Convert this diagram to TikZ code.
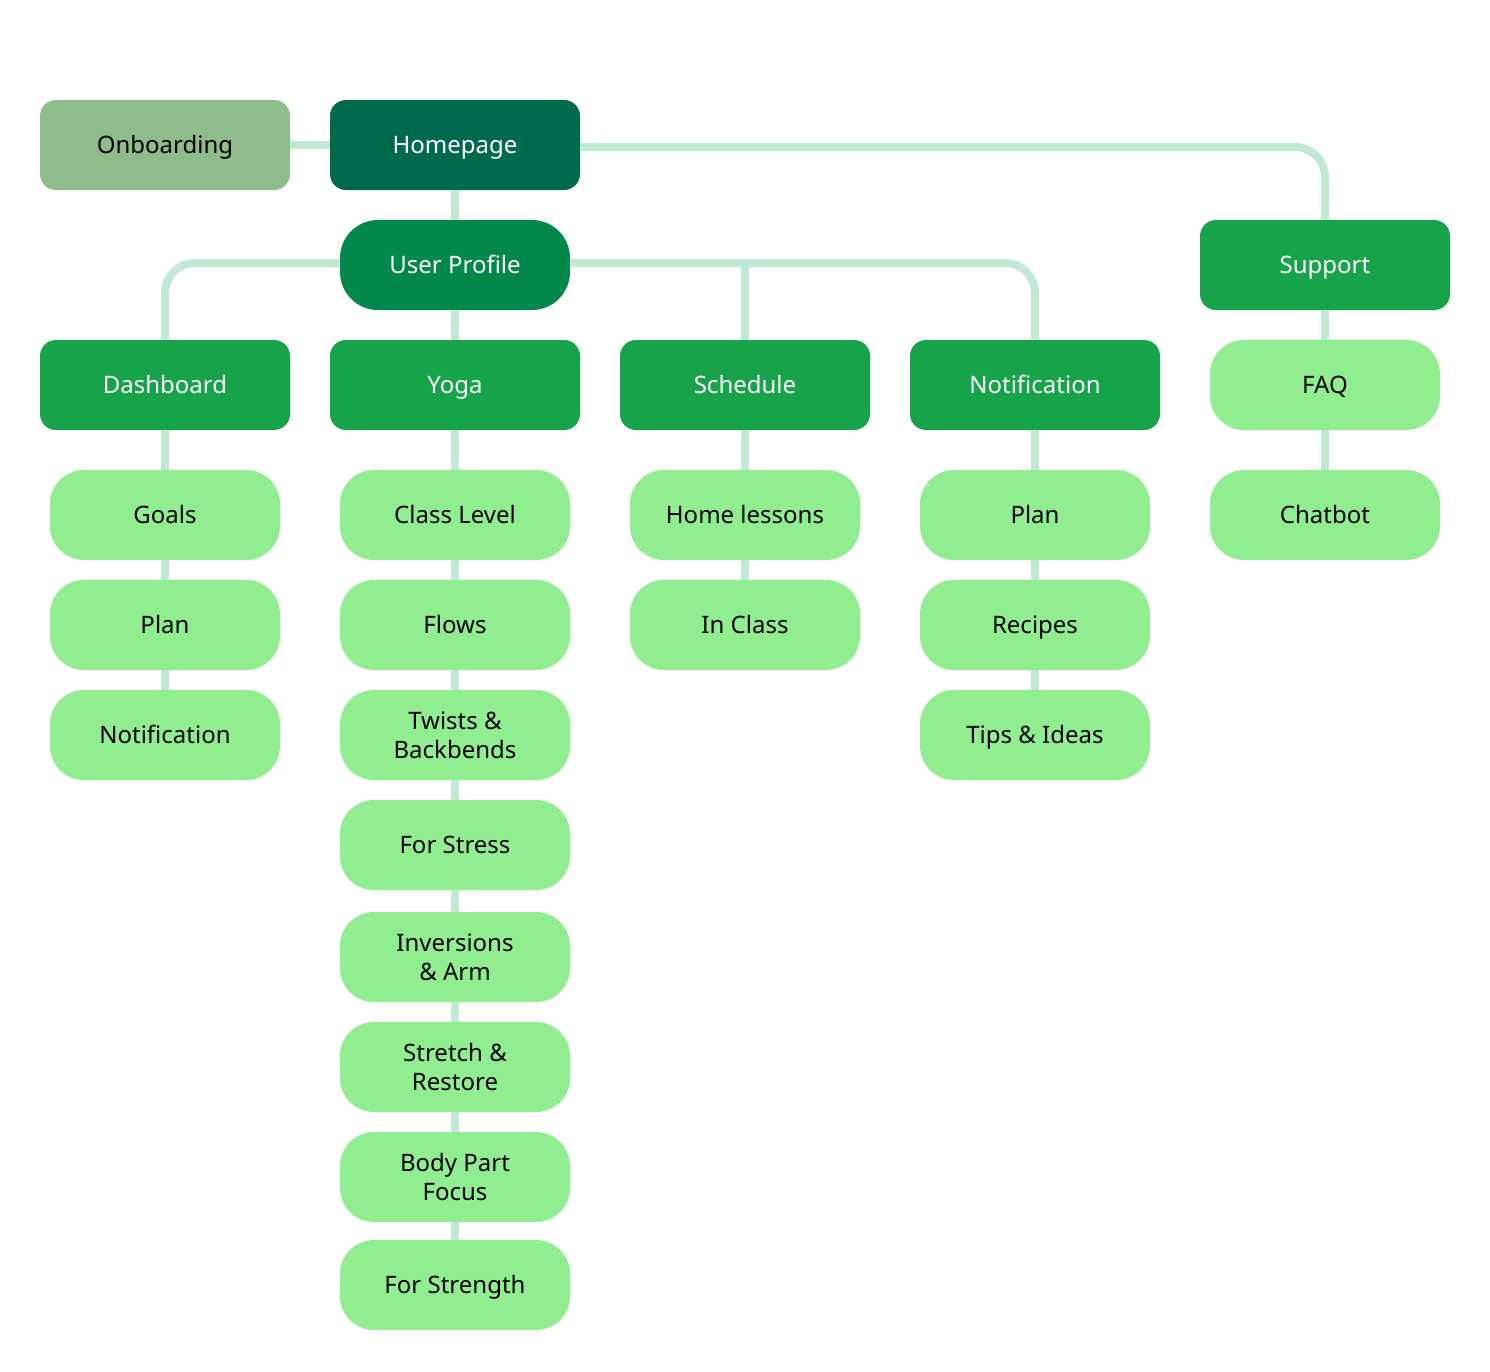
\documentclass[tikz,border=0pt]{standalone}
\usepackage{fontspec}
\setmainfont{Noto Sans}
\usetikzlibrary{positioning}

\definecolor{onbcol}{HTML}{8FBC8B}
\definecolor{homecol}{HTML}{006A4E}
\definecolor{profcol}{HTML}{02884A}
\definecolor{midcol}{HTML}{16A34A}
\definecolor{leafcol}{HTML}{90EE90}
\definecolor{linecol}{HTML}{C1E8D3}

\tikzset{
  box/.style={rectangle,rounded corners=8pt,minimum width=125pt,minimum height=45pt,
    inner sep=0pt,align=center,font=\fontsize{12}{14.5}\selectfont,
    text height=8.6pt,text depth=0pt},
  mid/.style={box,fill=midcol,text=white},
  leaf/.style={box,fill=leafcol,rounded corners=17pt,minimum width=115pt},
  twoline/.style={text height={},text depth={}},
  link/.style={draw=linecol,line width=4pt}
}

\begin{document}
\begin{tikzpicture}[x=0.5pt,y=-0.5pt]

\useasboundingbox [fill=white] (0,0) rectangle (1490,1372);

% top row
\node [box,fill=onbcol] (onb) at (165,145) {Onboarding};
\node [box,fill=homecol,text=white] (home) at (455,145) {Homepage};
\node [box,fill=profcol,text=white,rounded corners=19pt,minimum width=115pt] (prof) at (455,265) {User Profile};
\node [mid] (sup) at (1325,265) {Support};

% sections
\node [mid] (dash) at (165,385) {Dashboard};
\node [mid] (yoga) at (455,385) {Yoga};
\node [mid] (sched) at (745,385) {Schedule};
\node [mid] (notif) at (1035,385) {Notification};

% dashboard
\node [leaf] (goals) at (165,515) {Goals};
\node [leaf] (dplan) at (165,625) {Plan};
\node [leaf] (dnotif) at (165,735) {Notification};

% yoga
\node [leaf] (level) at (455,515) {Class Level};
\node [leaf] (flows) at (455,625) {Flows};
\node [leaf,twoline] (twist) at (455,735) {Twists \&\\Backbends};
\node [leaf] (stress) at (455,845) {For Stress};
\node [leaf,twoline] (invers) at (455,957) {Inversions\\\& Arm};
\node [leaf,twoline] (stretch) at (455,1067) {Stretch \&\\Restore};
\node [leaf,twoline] (body) at (455,1177) {Body Part\\Focus};
\node [leaf] (strength) at (455,1285) {For Strength};

% schedule
\node [leaf] (home2) at (745,515) {Home lessons};
\node [leaf] (inclass) at (745,625) {In Class};

% notification
\node [leaf] (nplan) at (1035,515) {Plan};
\node [leaf] (recipes) at (1035,625) {Recipes};
\node [leaf] (tips) at (1035,735) {Tips \& Ideas};

% support
\node [leaf] (faq) at (1325,385) {FAQ};
\node [leaf] (chat) at (1325,515) {Chatbot};

% connectors
\draw [link] (onb.east) -- (home.west);
\draw [link] (home) -- (prof);
\draw [link,rounded corners=15pt] ([yshift=-1pt]home.east) -| (sup.north);
\draw [link,rounded corners=15pt] ([yshift=1pt]prof.west) -| (dash.north);
\draw [link,rounded corners=15pt] ([yshift=1pt]prof.east) -| (notif.north);
\draw [link] ([yshift=1pt]prof.east -| sched.north) -- (sched.north);
\draw [link] (prof) -- (yoga);

\foreach \a/\b in {dash/goals,goals/dplan,dplan/dnotif,
  yoga/level,level/flows,flows/twist,twist/stress,stress/invers,invers/stretch,stretch/body,body/strength,
  sched/home2,home2/inclass,
  notif/nplan,nplan/recipes,recipes/tips,
  sup/faq,faq/chat}
  \draw [link] (\a) -- (\b);

\end{tikzpicture}
\end{document}
